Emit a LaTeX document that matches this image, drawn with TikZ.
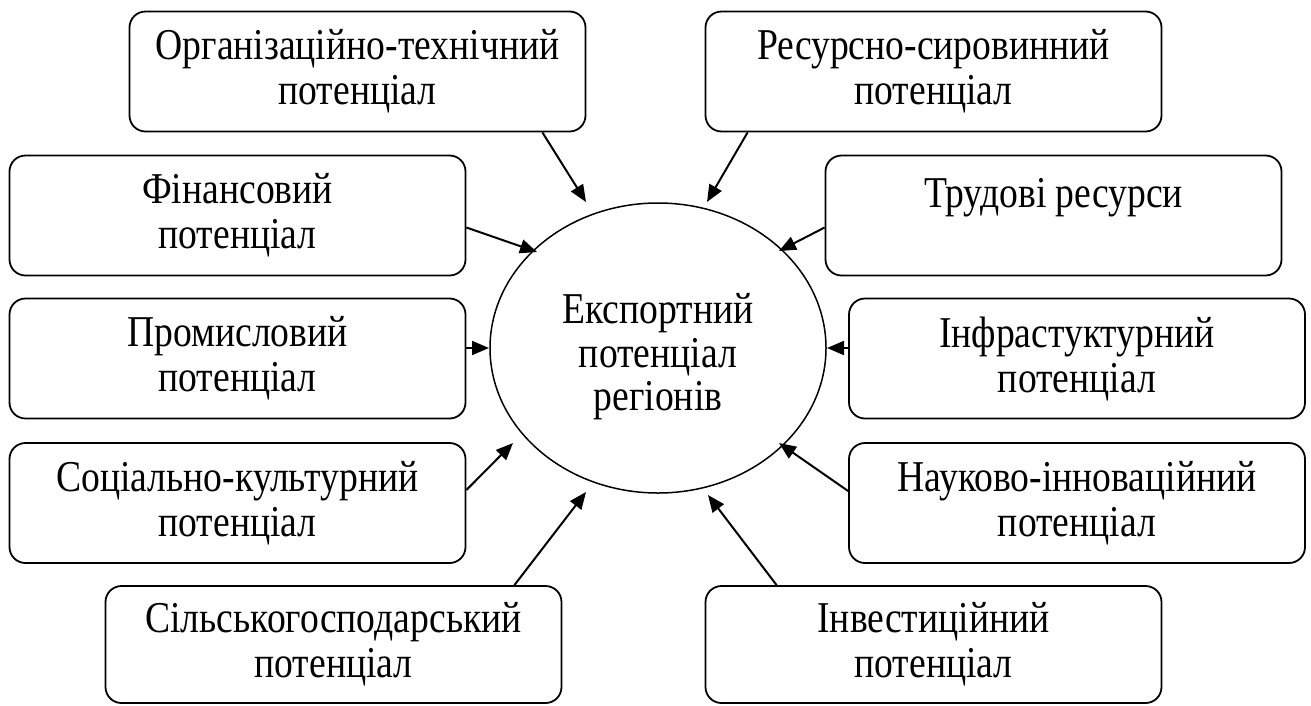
\documentclass[tikz,border=0pt]{standalone}
\usepackage{fontspec}
\setmainfont{Liberation Serif}[FakeStretch=0.855]
\usepackage{tikz}
\usetikzlibrary{arrows.meta, shapes.geometric, positioning}

\begin{document}
\begin{tikzpicture}[x=1pt, y=-1pt,
    potbox/.style={draw, rounded corners=16pt, line width=1.8pt, minimum width=456pt,
      minimum height=120pt, align=center, inner sep=0pt, font=\fontsize{44}{45}\selectfont,
      execute at begin node={\rule{0pt}{44pt}}},
    centre/.style={draw, ellipse, line width=1.5pt, minimum width=336pt, minimum height=290pt,
      inner sep=0pt},
    arr/.style={-{Triangle[length=17pt,width=14pt]}, line width=2pt}]
      \useasboundingbox (0,0) rectangle (1311,705);

      \node[centre] (exp) at (658,348) {};
      \node[align=center, font=\fontsize{44}{43.5}\selectfont] (exptext) at ([yshift=-9pt]exp.center)
        {Експортний\\потенціал\\регіонів};

      \node[potbox] (org) at (357.5,71.5) {Організаційно-технічний\\потенціал};
      \node[potbox] (res) at (933.5,71.5) {Ресурсно-сировинний\\потенціал};
      \node[potbox] (fin) at (237.5,215.5) {Фінансовий\\потенціал};
      \node[potbox] (trud) at (1053.5,215.5) {Трудові ресурси\\\mbox{}};
      \node[potbox] (prom) at (237.5,358.5) {Промисловий\\потенціал};
      \node[potbox] (infra) at (1077,358.5) {Інфрастуктурний\\потенціал};
      \node[potbox] (soc) at (237.5,503) {Соціально-культурний\\потенціал};
      \node[potbox] (nauk) at (1077,503) {Науково-інноваційний\\потенціал};
      \node[potbox, minimum height=117pt] (sil) at (333.5,644.5) {Сільськогосподарський\\потенціал};
      \node[potbox, minimum height=117pt] (inv) at (933.5,644.5) {Інвестиційний\\потенціал};

      \draw[arr] ([xshift=-44pt]org.south east) -- ([shift={(-72,-146)}]exp.center);
      \draw[arr] ([xshift=43pt]res.south west) -- ([shift={(49,-146)}]exp.center);
      \draw[arr] ([yshift=-12pt]fin.east) -- ([shift={(-121,-96)}]exp.center);
      \draw[arr] ([yshift=-12pt]trud.west) -- ([shift={(121,-97)}]exp.center);
      \draw[arr] ([yshift=10.5pt]prom.east) -- ([shift={(-169,0)}]exp.center);
      \draw[arr] ([yshift=10.5pt]infra.west) -- ([shift={(169,0)}]exp.center);
      \draw[arr] ([yshift=13pt]soc.east) -- ([shift={(-145,95)}]exp.center);
      \draw[arr] ([yshift=12pt]nauk.west) -- ([shift={(121,95)}]exp.center);
      \draw[arr] ([xshift=-48pt]sil.north east) -- ([shift={(-72,144)}]exp.center);
      \draw[arr] ([xshift=72pt]inv.north west) -- ([shift={(50,147)}]exp.center);
\end{tikzpicture}
\end{document}
